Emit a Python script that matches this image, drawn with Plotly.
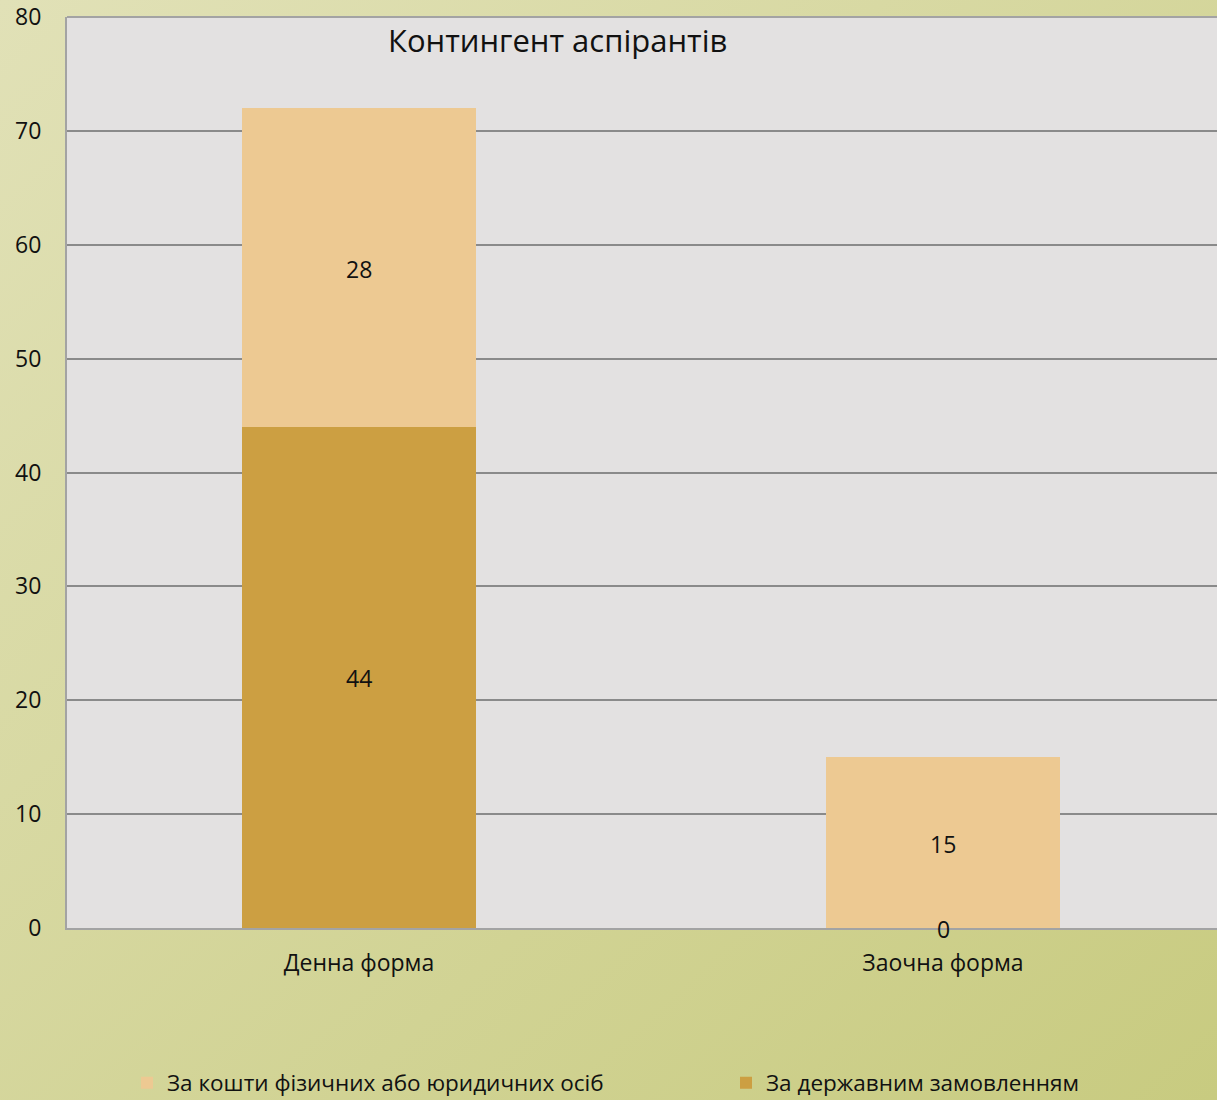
import base64
import plotly.graph_objects as go

categories = ["Денна форма", "Заочна форма"]
state_order = [44, 0]
private_funds = [28, 15]
series_names = ["За державним замовленням", "За кошти фізичних або юридичних осіб"]
title_text = "Контингент аспірантів"

FONT = "Open Sans"
C_STATE = "#cc9f42"
C_PRIVATE = "#edc992"

fig = go.Figure()
fig.add_trace(go.Bar(x=categories, y=state_order, name=series_names[0], legend="legend2",
                     marker=dict(color=C_STATE, line=dict(width=0)), width=0.4))
fig.add_trace(go.Bar(x=categories, y=private_funds, name=series_names[1], legend="legend",
                     marker=dict(color=C_PRIVATE, line=dict(width=0)), width=0.4))

W, H = 1217, 1100
L, R, T, B = 67, 0, 17, 172
pw, ph = W - L - R, H - T - B

# data labels at segment centres
annots = []
for i, c in enumerate(categories):
    for yv, t in ((state_order[i] / 2, state_order[i]),
                  (state_order[i] + private_funds[i] / 2, private_funds[i])):
        annots.append(dict(x=c, y=yv, xref="x", yref="y", text=str(t), showarrow=False,
                           xanchor="center", yanchor="middle", yshift=-1,
                           font=dict(family=FONT, size=23, color="#111111")))

annots.append(dict(text=title_text, xref="paper", yref="paper", x=(557 - L) / pw, y=1 - 23 / ph,
                   xanchor="center", yanchor="middle", showarrow=False,
                   font=dict(family=FONT, size=31, color="#111111")))

svg = ('<svg xmlns="http://www.w3.org/2000/svg" width="1217" height="1100" preserveAspectRatio="none">'
       '<defs><linearGradient id="g" x1="0" y1="0" x2="1" y2="1">'
       '<stop offset="0" stop-color="#e1e1b7"/><stop offset="1" stop-color="#c8cb80"/>'
       '</linearGradient></defs><rect width="1217" height="1100" fill="url(#g)"/></svg>')
src = "data:image/svg+xml;base64," + base64.b64encode(svg.encode()).decode()

leg_common = dict(orientation="h", xref="container", yref="container", xanchor="left",
                  y=1 - 1083 / H, yanchor="middle", bgcolor="rgba(0,0,0,0)", itemwidth=30,
                  font=dict(family=FONT, size=22.5, color="#111111"))

fig.update_layout(
    width=W, height=H,
    margin=dict(l=L, r=R, t=T, b=B, pad=0, autoexpand=False),
    barmode="stack",
    paper_bgcolor="#d6d89d",
    plot_bgcolor="#e3e1e1",
    font=dict(family=FONT, size=20, color="#111111"),
    images=[dict(source=src, xref="paper", yref="paper", x=-L / pw, y=1 + T / ph,
                 sizex=W / pw, sizey=H / ph, sizing="stretch", layer="below",
                 xanchor="left", yanchor="top")],
    shapes=[dict(type="rect", xref="paper", yref="paper", x0=0, x1=1, y0=0, y1=1,
                 fillcolor="#e3e1e1", line=dict(width=0), layer="below"),
            dict(type="line", xref="paper", yref="paper", x0=0, x1=1, y0=1, y1=1,
                 line=dict(color="#a3a3a3", width=2), layer="above")],
    annotations=annots,
    legend=dict(x=127 / W, **leg_common),
    legend2=dict(x=726 / W, **leg_common),
    showlegend=True,
)
fig.update_xaxes(range=[-0.5, -0.5 + pw / 584], showline=True, linecolor="#a3a3a3", linewidth=2,
                 mirror=False, showgrid=False, ticks="", ticklabelstandoff=13,
                 tickfont=dict(family=FONT, size=23, color="#111111"))
fig.update_yaxes(range=[0, 80], dtick=10, showline=True, linecolor="#a3a3a3", linewidth=2,
                 showgrid=True, gridcolor="#8a8a8a", gridwidth=1.5, zeroline=False,
                 ticks="", ticklabelstandoff=19,
                 tickfont=dict(family=FONT, size=23, color="#111111"))

fig.write_html("out.html", config={"displayModeBar": False},
               post_script="document.body.style.margin='0';")
